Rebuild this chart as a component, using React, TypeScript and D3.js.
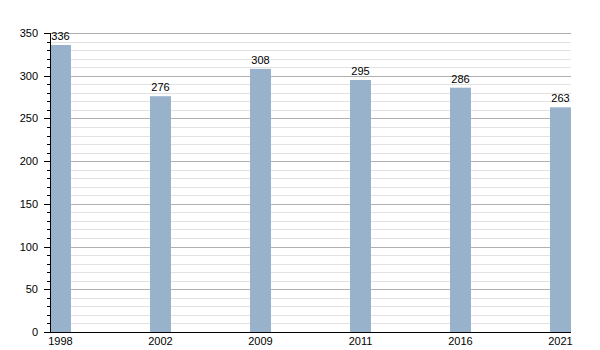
import React from "react";
import * as d3 from "d3";

const years = ["1998", "2002", "2009", "2011", "2016", "2021"];
const values = [336, 276, 308, 295, 286, 263];
const majorTicks = [0, 50, 100, 150, 200, 250, 300, 350];

export default function App() {
  const W = 600, H = 350;
  const left = 50, right = 571, top = 33, bottom = 332;
  const y = d3.scaleLinear().domain([0, 350]).range([bottom, top]);
  const x = d3.scaleBand().domain(years).range([left, right + 79]).paddingInner(0).paddingOuter(0);
  const barW = 21;
  const minor = d3.range(0, 351, 10);
  return (
    <svg width={W} height={H} style={{ position: "absolute", left: 0, top: 0, fontFamily: "'Liberation Sans', Arial, sans-serif" }}>
      <rect width={W} height={H} fill="#fff" />
      {minor.filter(v => v % 50 !== 0).map(v => (
        <line key={"m" + v} x1={left} x2={right} y1={Math.round(y(v)) + 0.5} y2={Math.round(y(v)) + 0.5} stroke="#e2e2e2" strokeWidth={1} />
      ))}
      {majorTicks.filter(v => v !== 0).map(v => (
        <line key={"g" + v} x1={left} x2={right} y1={Math.round(y(v)) + 0.5} y2={Math.round(y(v)) + 0.5} stroke="#b0b0b0" strokeWidth={1} />
      ))}
      {years.map((yr, i) => {
        const bx = (x(yr) as number);
        return (
          <g key={yr}>
            <rect x={bx} y={y(values[i])} width={barW} height={bottom - y(values[i])} fill="#98b2cc" />
            <text x={bx + barW / 2} y={y(values[i]) - 5} textAnchor="middle" fontSize={11} fill="#000">{values[i]}</text>
            <text x={bx + barW / 2} y={bottom + 13} textAnchor="middle" fontSize={11} fill="#000">{yr}</text>
          </g>
        );
      })}
      {minor.filter(v => v % 50 !== 0).map(v => (
        <line key={"mt" + v} x1={left - 3} x2={left} y1={Math.round(y(v)) + 0.5} y2={Math.round(y(v)) + 0.5} stroke="#000" />
      ))}
      {majorTicks.map(v => (
        <g key={"t" + v}>
          <line x1={left - 6} x2={left} y1={Math.round(y(v)) + 0.5} y2={Math.round(y(v)) + 0.5} stroke="#000" />
          <text x={left - 12} y={y(v) + 4} textAnchor="end" fontSize={11} fill="#000">{v}</text>
        </g>
      ))}
      <line x1={left + 0.5} x2={left + 0.5} y1={top} y2={bottom + 1} stroke="#000" />
      <line x1={left} x2={right} y1={bottom + 0.5} y2={bottom + 0.5} stroke="#000" />
    </svg>
  );
}
